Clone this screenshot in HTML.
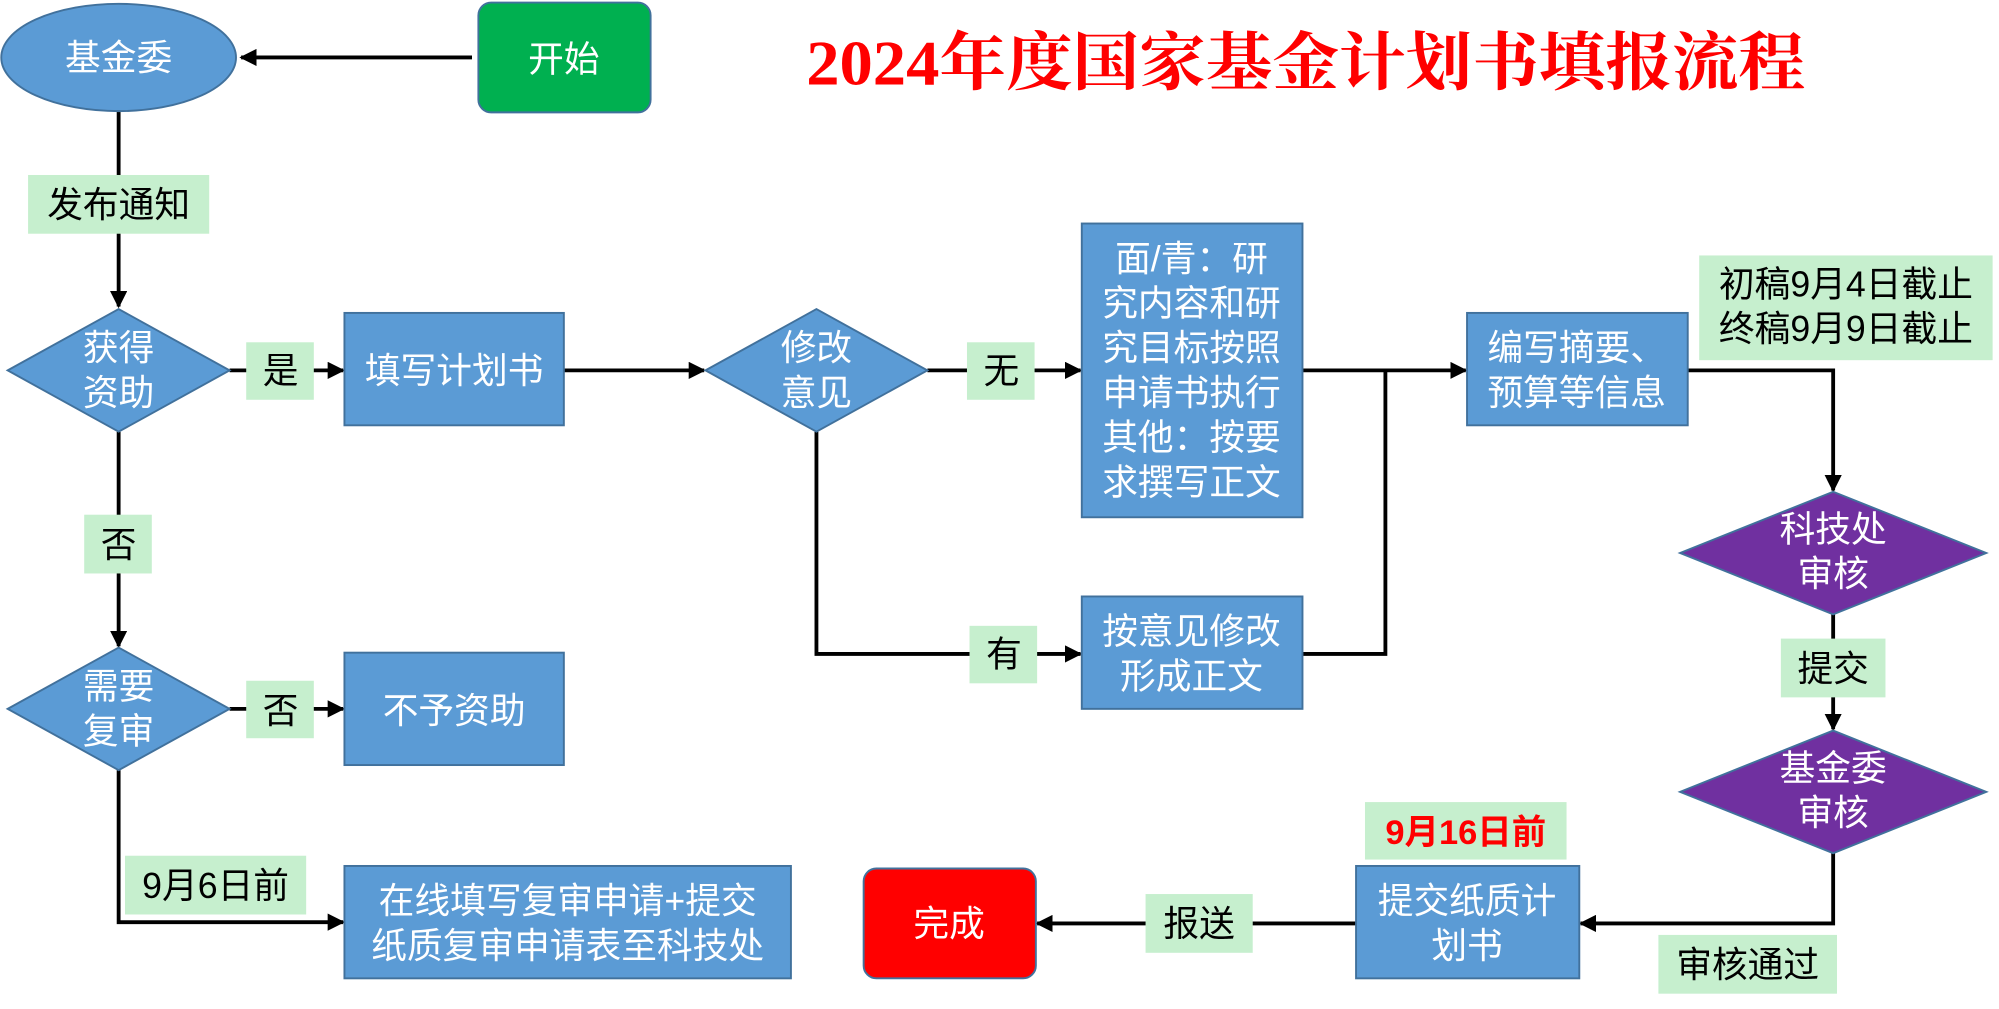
<!DOCTYPE html>
<html><head><meta charset="utf-8"><style>
html,body{margin:0;padding:0;background:#fff;}
svg{display:block;}
text{font-family:"Liberation Sans","Noto Sans CJK SC",sans-serif;}
</style></head><body>
<svg width="1999" height="1009" viewBox="0 0 1567 790" preserveAspectRatio="none" xmlns="http://www.w3.org/2000/svg">
<defs>
<marker id="a" viewBox="0 0 10 10" refX="9" refY="5" markerWidth="4.5" markerHeight="4.5" orient="auto-start-reverse" markerUnits="strokeWidth">
<path d="M0,0 L10,5 L0,10 z" fill="#000"/></marker>
</defs>
<g stroke="#000" stroke-width="3" fill="none">
<line x1="370" y1="45" x2="189" y2="45" marker-end="url(#a)"/>
<line x1="93" y1="87" x2="93" y2="240" marker-end="url(#a)"/>
<line x1="180" y1="290" x2="269" y2="290" marker-end="url(#a)"/>
<line x1="442" y1="290" x2="552" y2="290" marker-end="url(#a)"/>
<line x1="727" y1="290" x2="847" y2="290" marker-end="url(#a)"/>
<line x1="1021" y1="290" x2="1149" y2="290" marker-end="url(#a)"/>
<polyline points="1021,512 1086,512 1086,290"/>
<polyline points="1323,290 1437,290 1437,384" marker-end="url(#a)"/>
<line x1="1437" y1="481" x2="1437" y2="571" marker-end="url(#a)"/>
<polyline points="1437,668 1437,723 1239,723" marker-end="url(#a)"/>
<line x1="1063" y1="723" x2="813" y2="723" marker-end="url(#a)"/>
<polyline points="640,338 640,512 847,512" marker-end="url(#a)"/>
<line x1="93" y1="338" x2="93" y2="506" marker-end="url(#a)"/>
<line x1="180" y1="555" x2="269" y2="555" marker-end="url(#a)"/>
<polyline points="93,603 93,722 269,722" marker-end="url(#a)"/>
</g>
<g stroke="#41719c" stroke-width="1.5" fill="#5b9bd5">
<ellipse cx="93" cy="45" rx="92" ry="42"/>
<polygon points="6,290 93,242 180,290 93,338"/>
<polygon points="553,290 640,242 727,290 640,338"/>
<polygon points="6,555 93,507 180,555 93,603"/>
<rect x="270" y="245" width="172" height="88"/>
<rect x="848" y="175" width="173" height="230"/>
<rect x="848" y="467" width="173" height="88"/>
<rect x="1150" y="245" width="173" height="88"/>
<rect x="270" y="511" width="172" height="88"/>
<rect x="270" y="678" width="350" height="88"/>
<rect x="1063" y="678" width="175" height="88"/>
<rect x="375" y="2" width="135" height="86" rx="10" fill="#00b050"/>
<rect x="677" y="680" width="135" height="86" rx="10" fill="#ff0000"/>
<polygon points="1317,433 1437,385 1557,433 1437,481" fill="#7030a0"/>
<polygon points="1317,620 1437,572 1557,620 1437,668" fill="#7030a0"/>
</g>
<g fill="#c6efce">
<rect x="22" y="137" width="142" height="46"/>
<rect x="193" y="268" width="53" height="45"/>
<rect x="758" y="268" width="53" height="45"/>
<rect x="1332" y="200" width="230" height="82"/>
<rect x="1396" y="500" width="82" height="46"/>
<rect x="1300" y="732" width="140" height="46"/>
<rect x="1070" y="628" width="158" height="45"/>
<rect x="898" y="700" width="84" height="46"/>
<rect x="760" y="490" width="53" height="45"/>
<rect x="66" y="403" width="53" height="46"/>
<rect x="193" y="533" width="53" height="45"/>
<rect x="98" y="670" width="142" height="46"/>
</g>
<text x="632" y="66" textLength="783" lengthAdjust="spacingAndGlyphs" font-size="50" font-weight="bold" fill="#ff0000" style="font-family:'Liberation Serif','Noto Serif CJK SC',serif">2024年度国家基金计划书填报流程</text>
<g font-size="28" fill="#fff" text-anchor="middle">
<text x="93" y="55">基金委</text>
<text x="442" y="56">开始</text>
<text x="93" y="282">获得</text><text x="93" y="317">资助</text>
<text x="640" y="282">修改</text><text x="640" y="317">意见</text>
<text x="93" y="547">需要</text><text x="93" y="582">复审</text>
<text x="356" y="300">填写计划书</text>
<text x="934" y="212">面/青：研</text>
<text x="934" y="247">究内容和研</text>
<text x="934" y="282">究目标按照</text>
<text x="934" y="317">申请书执行</text>
<text x="934" y="352">其他：按要</text>
<text x="934" y="387">求撰写正文</text>
<text x="934" y="504">按意见修改</text><text x="934" y="539">形成正文</text>
<text x="1236" y="282">编写摘要、</text><text x="1236" y="317">预算等信息</text>
<text x="1437" y="424">科技处</text><text x="1437" y="459">审核</text>
<text x="1437" y="611">基金委</text><text x="1437" y="646">审核</text>
<text x="356" y="566">不予资助</text>
<text x="445" y="715">在线填写复审申请+提交</text><text x="445" y="750">纸质复审申请表至科技处</text>
<text x="1150" y="715">提交纸质计</text><text x="1150" y="750">划书</text>
<text x="744" y="733">完成</text>
</g>
<g font-size="28" fill="#000" text-anchor="middle">
<text x="93" y="170">发布通知</text>
<text x="220" y="300">是</text>
<text x="785" y="300">无</text>
<text x="1447" y="232">初稿9月4日截止</text>
<text x="1447" y="267">终稿9月9日截止</text>
<text x="1437" y="533">提交</text>
<text x="1370" y="765">审核通过</text>
<text x="940" y="733">报送</text>
<text x="787" y="522">有</text>
<text x="93" y="436">否</text>
<text x="220" y="566">否</text>
<text x="169" y="703">9月6日前</text>
</g>
<text x="1149" y="661" text-anchor="middle" font-size="27" font-weight="bold" fill="#ff0000">9月16日前</text>
</svg>
</body></html>
